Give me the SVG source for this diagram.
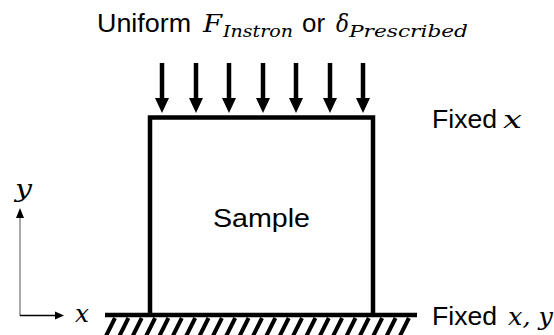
<svg xmlns="http://www.w3.org/2000/svg" width="554" height="335" viewBox="0 0 554 335">
  <defs>
    <style>
      .sans { font-family: "Liberation Sans", Arial, sans-serif; font-size: 26.67px; fill: #000; }
      .math { font-family: "DejaVu Serif", "Liberation Serif", serif; font-style: italic; font-size: 25px; fill: #000; }
      .sub { font-family: "DejaVu Serif", "Liberation Serif", serif; font-style: italic; font-size: 17px; fill: #000; }
      .edge { stroke: #000; stroke-width: 4.5; fill: none; }
      .load { stroke: #000; stroke-width: 4.5; }
      .hatch { stroke: #000; stroke-width: 4; }
    </style>
    <marker id="load-head" viewBox="0 0 14 15" refX="7" refY="15" markerWidth="14" markerHeight="15" markerUnits="userSpaceOnUse" orient="auto-start-reverse">
      <path d="M0,0 L14,0 L7,15 Z" fill="#000"/>
    </marker>
  </defs>

  <rect width="554" height="335" fill="#fff"/>

  <!-- load label -->
  <g id="load-label">
    <text class="sans" x="97" y="32" textLength="94" lengthAdjust="spacingAndGlyphs">Uniform</text>
    <text class="math" x="203" y="32" textLength="19" lengthAdjust="spacingAndGlyphs">F</text>
    <text class="sub" x="223" y="37" textLength="70" lengthAdjust="spacingAndGlyphs">Instron</text>
    <text class="sans" x="302" y="32" textLength="23" lengthAdjust="spacingAndGlyphs">or</text>
    <text class="math" x="336" y="32" textLength="13" lengthAdjust="spacingAndGlyphs">δ</text>
    <text class="sub" x="349" y="37" textLength="119" lengthAdjust="spacingAndGlyphs">Prescribed</text>
  </g>

  <!-- applied load arrows -->
  <g id="load-arrows">
    <line class="load" x1="162" y1="63" x2="162" y2="99"/>
    <line class="load" x1="196" y1="63" x2="196" y2="99"/>
    <line class="load" x1="229" y1="63" x2="229" y2="99"/>
    <line class="load" x1="263" y1="63" x2="263" y2="99"/>
    <line class="load" x1="296" y1="63" x2="296" y2="99"/>
    <line class="load" x1="330" y1="63" x2="330" y2="99"/>
    <line class="load" x1="363" y1="63" x2="363" y2="99"/>
    <path d="M155,98 L169,98 L162,113 Z M189,98 L203,98 L196,113 Z M222,98 L236,98 L229,113 Z M256,98 L270,98 L263,113 Z M289,98 L303,98 L296,113 Z M323,98 L337,98 L330,113 Z M356,98 L370,98 L363,113 Z" fill="#000"/>
  </g>

  <!-- sample -->
  <g id="sample">
    <path class="edge" d="M150,315 L150,117.5 L373,117.5 L373,315"/>
    <text class="sans" x="213" y="227" textLength="97" lengthAdjust="spacingAndGlyphs">Sample</text>
  </g>

  <!-- fixed ground -->
  <g id="ground">
    <line class="edge" x1="105" y1="315" x2="417" y2="315"/>
    <path class="hatch" d="M115,318 L106,336 M128.4,318 L119.4,336 M141.7,318 L132.7,336 M155.1,318 L146.1,336 M168.4,318 L159.4,336 M181.8,318 L172.8,336 M195.2,318 L186.2,336 M208.5,318 L199.5,336 M221.9,318 L212.9,336 M235.2,318 L226.2,336 M248.6,318 L239.6,336 M262,318 L253,336 M275.3,318 L266.3,336 M288.7,318 L279.7,336 M302,318 L293,336 M315.4,318 L306.4,336 M328.8,318 L319.8,336 M342.1,318 L333.1,336 M355.5,318 L346.5,336 M368.8,318 L359.8,336 M382.2,318 L373.2,336 M395.6,318 L386.6,336 M408.9,318 L399.9,336"/>
  </g>

  <!-- boundary condition labels -->
  <g id="fixed-x">
    <text class="sans" x="432" y="128" textLength="65" lengthAdjust="spacingAndGlyphs">Fixed</text>
    <text class="math" x="503" y="128" textLength="19" lengthAdjust="spacingAndGlyphs">x</text>
  </g>
  <g id="fixed-xy">
    <text class="sans" x="432" y="325" textLength="65" lengthAdjust="spacingAndGlyphs">Fixed</text>
    <text class="math" x="508" y="325" textLength="45" lengthAdjust="spacingAndGlyphs">x, y</text>
  </g>

  <!-- coordinate axes -->
  <g id="axes">
    <line x1="20" y1="316" x2="20" y2="216" stroke="#8c8c8c" stroke-width="1.5"/>
    <path d="M16,218 L24,218 L20,208 Z" fill="#000"/>
    <line x1="20" y1="315.5" x2="56" y2="315.5" stroke="#000" stroke-width="1.5"/>
    <path d="M55,311.5 L55,319.5 L64,315.5 Z" fill="#000"/>
    <text class="math" x="15" y="197" textLength="17" lengthAdjust="spacingAndGlyphs">y</text>
    <text class="math" x="75" y="322" textLength="14" lengthAdjust="spacingAndGlyphs">x</text>
  </g>
</svg>
